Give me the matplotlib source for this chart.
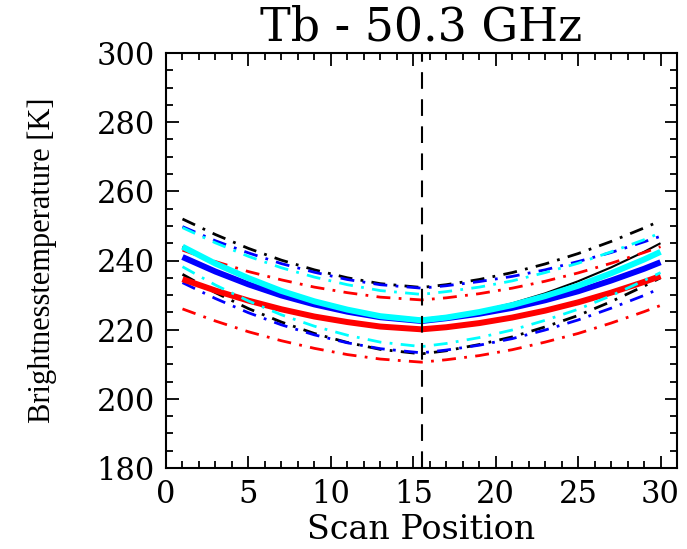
import matplotlib
matplotlib.use("Agg")
import matplotlib.pyplot as plt
from matplotlib.ticker import MultipleLocator

scan = [1, 3, 5, 7, 9, 11, 13, 15.5, 17, 19, 21, 23, 25, 27, 29, 30]

black_hi   = [252.0, 247.5, 243.5, 240.1, 237.3, 235.0, 233.3, 232.2, 233.0, 234.5, 236.5, 239.0, 242.0, 245.5, 249.4, 251.5]
black_mean = [244.0, 239.1, 234.8, 231.2, 228.1, 225.7, 223.8, 222.6, 223.6, 225.3, 227.6, 230.5, 234.0, 238.0, 242.5, 245.0]
black_lo   = [236.0, 230.7, 226.1, 222.2, 218.9, 216.3, 214.3, 213.0, 213.9, 215.7, 217.9, 220.8, 224.1, 228.1, 232.6, 235.0]

blue_hi    = [249.8, 245.7, 242.2, 239.1, 236.6, 234.5, 233.0, 232.0, 232.7, 233.9, 235.4, 237.3, 239.7, 242.3, 245.4, 247.0]
blue_mean  = [241.0, 236.8, 233.1, 229.9, 227.3, 225.2, 223.6, 222.5, 223.3, 224.6, 226.3, 228.5, 231.1, 234.2, 237.6, 239.5]
blue_lo    = [233.6, 229.0, 224.9, 221.4, 218.5, 216.2, 214.5, 213.3, 214.1, 215.5, 217.4, 219.9, 222.8, 226.2, 229.9, 232.0]

cyan_hi    = [249.5, 245.1, 241.2, 237.9, 235.2, 233.0, 231.3, 230.2, 231.0, 232.3, 234.1, 236.5, 239.2, 242.5, 246.0, 248.0]
cyan_mean  = [244.0, 239.1, 234.9, 231.2, 228.2, 225.8, 223.9, 222.7, 223.5, 225.1, 227.1, 229.7, 232.7, 236.3, 240.3, 242.5]
cyan_lo    = [238.2, 232.9, 228.3, 224.3, 221.0, 218.4, 216.4, 215.1, 216.0, 217.7, 219.9, 222.7, 225.9, 229.8, 234.2, 236.5]

red_hi     = [243.0, 239.7, 236.8, 234.4, 232.3, 230.7, 229.4, 228.6, 229.2, 230.4, 232.0, 234.0, 236.4, 239.2, 242.3, 244.0]
red_mean   = [234.6, 231.3, 228.4, 225.9, 223.8, 222.2, 220.9, 220.1, 220.7, 221.9, 223.5, 225.5, 227.9, 230.7, 233.8, 235.5]
red_lo     = [226.0, 222.5, 219.4, 216.8, 214.6, 212.8, 211.5, 210.6, 211.3, 212.5, 214.2, 216.4, 218.9, 221.9, 225.2, 227.0]

nadir_position = 15.5

title = "Tb - 50.3 GHz"
xlabel = "Scan Position"
ylabel = "Brightnesstemperature [K]"

W, H = 687, 549
fig = plt.figure(figsize=(W / 100, H / 100), dpi=100)
ax_left, ax_right, ax_top, ax_bot = 166, 677, 53, 468
ax = fig.add_axes([ax_left / W, 1 - ax_bot / H, (ax_right - ax_left) / W, (ax_bot - ax_top) / H])

dd = (0, (5, 3, 1, 3))
groups = [
    ("black", black_hi, black_mean, black_lo, 1.5),
    ("#0000ff", blue_hi, blue_mean, blue_lo, 4.3),
    ("#ff0000", red_hi, red_mean, red_lo, 4.3),
    ("#00ffff", cyan_hi, cyan_mean, cyan_lo, 4.3),
]
for color, hi, mean, lo, lw in groups:
    ax.plot(scan, hi, color=color, lw=2.0, linestyle=dd)
    ax.plot(scan, lo, color=color, lw=2.0, linestyle=dd)
    ax.plot(scan, mean, color=color, lw=lw, solid_capstyle="butt")

ax.axvline(nadir_position, color="black", lw=1.5, linestyle=(0, (8, 5)))

ax.set_xlim(0, 31)
ax.set_ylim(180, 300)
ax.xaxis.set_major_locator(MultipleLocator(5))
ax.xaxis.set_minor_locator(MultipleLocator(1))
ax.yaxis.set_major_locator(MultipleLocator(20))
ax.yaxis.set_minor_locator(MultipleLocator(5))
ax.tick_params(which="both", direction="in", top=True, right=True, width=1.3, colors="black")
ax.tick_params(which="major", length=9, labelsize=22, pad=8)
ax.tick_params(which="minor", length=5)
for lab in ax.get_xticklabels() + ax.get_yticklabels():
    lab.set_family("DejaVu Serif")
for s in ax.spines.values():
    s.set_linewidth(1.5)

fig.text((ax_left + ax_right) / 2 / W, 1 - 28 / H, title, ha="center", va="center",
         fontsize=33, family="DejaVu Serif")
fig.text((ax_left + ax_right) / 2 / W, 1 - 530 / H, xlabel, ha="center", va="center",
         fontsize=24, family="DejaVu Serif")
fig.text(42 / W, 1 - 260 / H, ylabel, ha="center", va="center", rotation=90,
         fontsize=22, family="Liberation Serif")

fig.savefig("out.png", dpi=100)
